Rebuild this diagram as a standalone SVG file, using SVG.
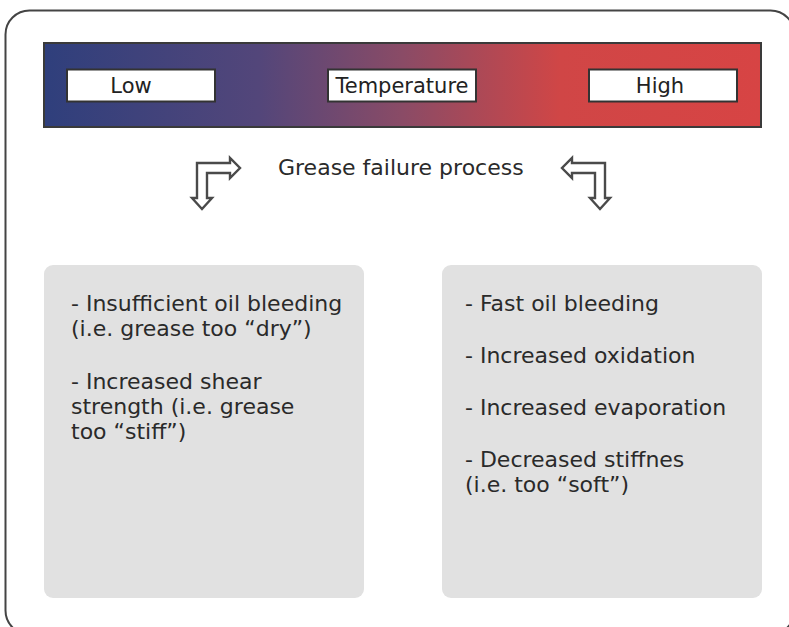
<svg xmlns="http://www.w3.org/2000/svg" width="789" height="627" viewBox="0 0 789 627">
<defs>
<linearGradient id="temp" x1="0" y1="0" x2="1" y2="0">
<stop offset="0" stop-color="#2f3f7c"/>
<stop offset="0.3" stop-color="#53467a"/>
<stop offset="0.5" stop-color="#8a4b66"/>
<stop offset="0.72" stop-color="#d04646"/>
<stop offset="1" stop-color="#d74444"/>
</linearGradient>
<style>
text{font-family:"DejaVu Sans","Verdana",sans-serif;fill:#2a2a2a}
.lbl{font-size:21px;text-anchor:middle;fill:#222}
.body{font-size:22px}
.tbox{fill:#fff;stroke:#333;stroke-width:2}
.panel{fill:#e1e1e1}
.arrow{fill:#fff;stroke:#4a4a4a;stroke-width:2.4;stroke-linejoin:miter}
</style>
</defs>
<rect x="0" y="0" width="789" height="627" fill="#fff"/>
<rect x="5.5" y="10.5" width="789" height="624" rx="24" fill="none" stroke="#444" stroke-width="2"/>
<g id="temperature-bar">
<rect x="44" y="43" width="717" height="84" fill="url(#temp)" stroke="#3a3a3a" stroke-width="2"/>
</g>
<g id="low">
<rect class="tbox" x="67" y="69.5" width="148" height="32"/>
<text class="lbl" x="131" y="93">Low</text>
</g>
<g id="temperature">
<rect class="tbox" x="328" y="69.5" width="148" height="32"/>
<text class="lbl" x="402" y="93">Temperature</text>
</g>
<g id="high">
<rect class="tbox" x="589" y="69.5" width="148" height="32"/>
<text class="lbl" x="660" y="93">High</text>
</g>
<g id="title">
<text x="278" y="175" style="font-size:22px">Grease failure process</text>
</g>
<g id="connectors">
<path class="arrow" d="M197,198 L197,163 L230,163 L230,158 L240,168 L230,178 L230,173 L207,173 L207,198 L212,198 L202,209 L192,198 Z"/>
<path class="arrow" d="M605,198 L605,163 L572,163 L572,158 L562,168 L572,178 L572,173 L595,173 L595,198 L590,198 L600,209 L610,198 Z"/>
</g>
<g id="low-effects">
<rect class="panel" x="44" y="265" width="320" height="333" rx="9"/>
<text class="body" x="71" y="311">- Insufficient oil bleeding</text>
<text class="body" x="71" y="336">(i.e. grease too “dry”)</text>
<text class="body" x="71" y="389">- Increased shear</text>
<text class="body" x="71" y="414">strength (i.e. grease</text>
<text class="body" x="71" y="439">too “stiff”)</text>
</g>
<g id="high-effects">
<rect class="panel" x="442" y="265" width="320" height="333" rx="9"/>
<text class="body" x="465" y="311">- Fast oil bleeding</text>
<text class="body" x="465" y="363">- Increased oxidation</text>
<text class="body" x="465" y="415">- Increased evaporation</text>
<text class="body" x="465" y="467">- Decreased stiffnes</text>
<text class="body" x="465" y="492">(i.e. too “soft”)</text>
</g>
</svg>
